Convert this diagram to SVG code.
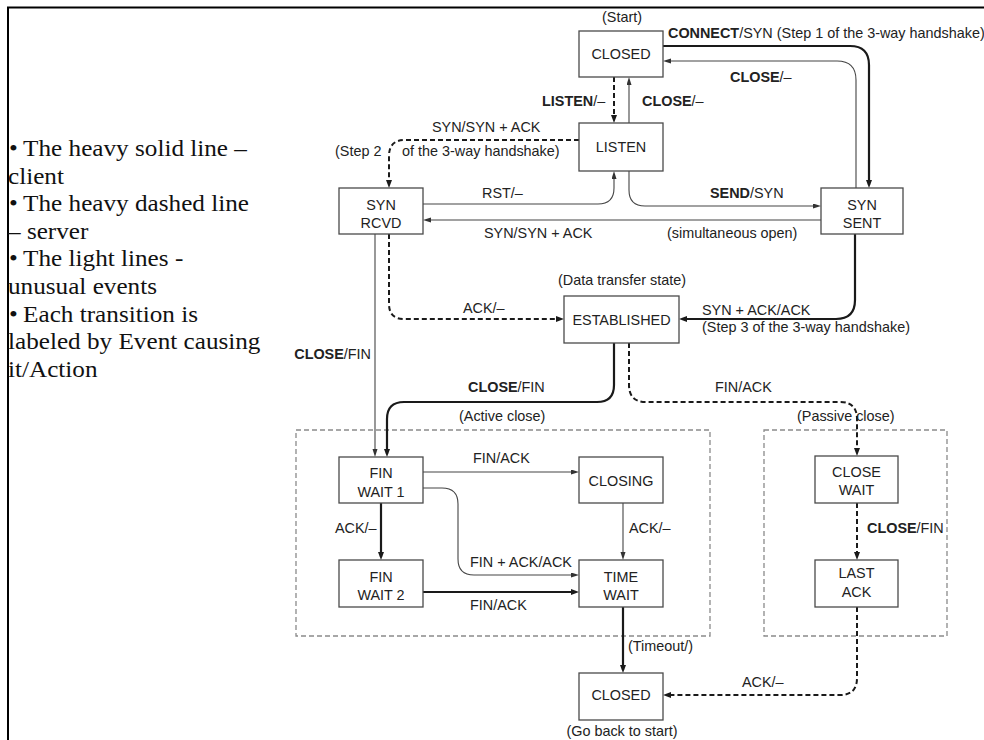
<svg xmlns="http://www.w3.org/2000/svg" width="984" height="740" viewBox="0 0 984 740">
  <style>
    .lbl { font-family: "Liberation Sans", Arial, Helvetica, sans-serif; font-size: 14.4px; fill: #222; }
    .lbl .b { font-weight: bold; }
    .node rect { fill: #fff; stroke: #4a4a4a; stroke-width: 1.3; }
    .node text { font-family: "Liberation Sans", Arial, Helvetica, sans-serif; font-size: 14.4px; fill: #222; text-anchor: middle; }
    .note { font-family: "Liberation Serif", "Times New Roman", serif; font-size: 22.5px; fill: #111; }
    .heavy { fill: none; stroke: #1a1a1a; stroke-width: 2.2; }
    .dash { fill: none; stroke: #1a1a1a; stroke-width: 2; stroke-dasharray: 5 3; }
    .light { fill: none; stroke: #444; stroke-width: 1.1; }
    .group { fill: none; stroke: #8a8a8a; stroke-width: 1.3; stroke-dasharray: 5 3; }
    .frame { fill: none; stroke: #000; stroke-width: 2; }
  </style>
  <defs>
    <marker id="ah" markerUnits="userSpaceOnUse" markerWidth="10" markerHeight="8" refX="5" refY="3" orient="auto">
      <path d="M0,0 L8,3 L0,6 z" fill="#1a1a1a"/>
    </marker>
    <marker id="al" markerUnits="userSpaceOnUse" markerWidth="10" markerHeight="8" refX="5" refY="2.5" orient="auto">
      <path d="M0,0 L8,2.5 L0,5 z" fill="#333"/>
    </marker>
  </defs>

  <rect width="984" height="740" fill="#fff"/>
  <path class="frame" d="M8,740 V7.5 H984"/>

  <!-- legend, set slightly wide -->
  <g id="legend" class="note" transform="translate(8 0) scale(1.12 1) translate(-8 0)">
    <text x="9" y="156">•<tspan x="21.5">The heavy solid line –</tspan></text>
    <text x="8" y="183.6">client</text>
    <text x="9" y="211.2">•<tspan x="21.5">The heavy dashed line</tspan></text>
    <text x="8" y="238.8">– server</text>
    <text x="9" y="266.4">•<tspan x="21.5">The light lines -</tspan></text>
    <text x="8" y="294">unusual events</text>
    <text x="9" y="321.6">•<tspan x="21.5">Each transition is</tspan></text>
    <text x="8" y="349.2">labeled by Event causing</text>
    <text x="8" y="376.8">it/Action</text>
  </g>

  <!-- closing phase containers -->
  <rect id="active-close" class="group" x="296" y="430" width="414" height="206"/>
  <rect id="passive-close" class="group" x="764" y="430" width="183" height="206"/>

  <!-- transitions -->
  <g id="connectors">
    <path class="heavy" d="M663,46 H850 Q869,46 869,65 V185" marker-end="url(#ah)"/>
    <path class="light" d="M856,188 V80 Q856,61 837,61 H666" marker-end="url(#al)"/>
    <path class="dash" d="M614,77 V120" marker-end="url(#ah)"/>
    <path class="light" d="M629,123 V80" marker-end="url(#al)"/>
    <path class="dash" d="M579,140 H405 Q389,140 389,156 V185" marker-end="url(#ah)"/>
    <path class="light" d="M423,204 H598 Q614,204 614,188 V174" marker-end="url(#al)"/>
    <path class="light" d="M629,171 V190 Q629,206 645,206 H818" marker-end="url(#al)"/>
    <path class="light" d="M821,220 H426" marker-end="url(#al)"/>
    <path class="dash" d="M389,234 V304 Q389,319 404,319 H561" marker-end="url(#ah)"/>
    <path class="light" d="M375,234 V454" marker-end="url(#al)"/>
    <path class="heavy" d="M855,234 V300 Q855,319 836,319 H682" marker-end="url(#ah)"/>
    <path class="heavy" d="M614,343 V385 Q614,402 597,402 H404 Q387,402 387,419 V454" marker-end="url(#ah)"/>
    <path class="dash" d="M629,343 V385 Q629,402 646,402 H840 Q857,402 857,419 V453" marker-end="url(#ah)"/>
    <path class="light" d="M423,472 H576" marker-end="url(#al)"/>
    <path class="light" d="M423,488 H442 Q458,488 458,504 V559 Q458,575 474,575 H576" marker-end="url(#al)"/>
    <path class="heavy" d="M381,503 V557" marker-end="url(#ah)"/>
    <path class="heavy" d="M423,592 H576" marker-end="url(#ah)"/>
    <path class="light" d="M623,503 V557" marker-end="url(#al)"/>
    <path class="heavy" d="M623,607 V670" marker-end="url(#ah)"/>
    <path class="dash" d="M857,503 V557" marker-end="url(#ah)"/>
    <path class="dash" d="M857,607 V678 Q857,695 840,695 H666" marker-end="url(#ah)"/>
  </g>

  <!-- transition labels -->
  <g id="labels" class="lbl">
    <text x="622" y="21.5" text-anchor="middle">(Start)</text>
    <text x="668" y="37.5"><tspan class="b">CONNECT</tspan>/SYN (Step 1 of the 3-way handshake)</text>
    <text x="730" y="81.5"><tspan class="b">CLOSE</tspan>/–</text>
    <text x="542" y="106"><tspan class="b">LISTEN</tspan>/–</text>
    <text x="642" y="106"><tspan class="b">CLOSE</tspan>/–</text>
    <text x="432" y="131.5">SYN/SYN + ACK</text>
    <text x="335" y="156">(Step 2</text>
    <text x="402" y="156">of the 3-way handshake)</text>
    <text x="482" y="198">RST/–</text>
    <text x="710" y="197.5"><tspan class="b">SEND</tspan>/SYN</text>
    <text x="484" y="238">SYN/SYN + ACK</text>
    <text x="667" y="237.5">(simultaneous open)</text>
    <text x="558" y="285">(Data transfer state)</text>
    <text x="463" y="312.5">ACK/–</text>
    <text x="702" y="314.5">SYN + ACK/ACK</text>
    <text x="702" y="332">(Step 3 of the 3-way handshake)</text>
    <text x="371" y="359" text-anchor="end"><tspan class="b">CLOSE</tspan>/FIN</text>
    <text x="468" y="391.5"><tspan class="b">CLOSE</tspan>/FIN</text>
    <text x="459" y="421">(Active close)</text>
    <text x="715" y="391.5">FIN/ACK</text>
    <text x="797" y="421">(Passive close)</text>
    <text x="473" y="462.5">FIN/ACK</text>
    <text x="335" y="533">ACK/–</text>
    <text x="629" y="533">ACK/–</text>
    <text x="470" y="566.5">FIN + ACK/ACK</text>
    <text x="470" y="609.5">FIN/ACK</text>
    <text x="628" y="651">(Timeout/)</text>
    <text x="622" y="736" text-anchor="middle">(Go back to start)</text>
    <text x="867" y="533"><tspan class="b">CLOSE</tspan>/FIN</text>
    <text x="742" y="686.5">ACK/–</text>
  </g>

  <!-- states -->
  <g id="closed" class="node"><rect x="579" y="31" width="84" height="46"/><text x="621" y="59">CLOSED</text></g>
  <g id="listen" class="node"><rect x="579" y="123" width="84" height="48"/><text x="621" y="152">LISTEN</text></g>
  <g id="syn-rcvd" class="node"><rect x="339" y="188" width="84" height="46"/><text x="381" y="210">SYN</text><text x="381" y="228">RCVD</text></g>
  <g id="syn-sent" class="node"><rect x="821" y="188" width="82" height="46"/><text x="862" y="210">SYN</text><text x="862" y="228">SENT</text></g>
  <g id="established" class="node"><rect x="564" y="296" width="115" height="47"/><text x="621.5" y="324.5">ESTABLISHED</text></g>
  <g id="fin-wait-1" class="node"><rect x="339" y="457" width="84" height="46"/><text x="381" y="478">FIN</text><text x="381" y="496.5">WAIT 1</text></g>
  <g id="closing" class="node"><rect x="579" y="457" width="84" height="46"/><text x="621" y="485.5">CLOSING</text></g>
  <g id="fin-wait-2" class="node"><rect x="339" y="560" width="84" height="47"/><text x="381" y="581.5">FIN</text><text x="381" y="599.5">WAIT 2</text></g>
  <g id="time-wait" class="node"><rect x="579" y="560" width="84" height="47"/><text x="621" y="581.5">TIME</text><text x="621" y="599.5">WAIT</text></g>
  <g id="closed-end" class="node"><rect x="579" y="673" width="84" height="47"/><text x="621" y="700">CLOSED</text></g>
  <g id="close-wait" class="node"><rect x="815" y="456" width="83" height="47"/><text x="856.5" y="476.5">CLOSE</text><text x="856.5" y="495">WAIT</text></g>
  <g id="last-ack" class="node"><rect x="815" y="560" width="83" height="47"/><text x="856.5" y="578">LAST</text><text x="856.5" y="596.5">ACK</text></g>
</svg>
